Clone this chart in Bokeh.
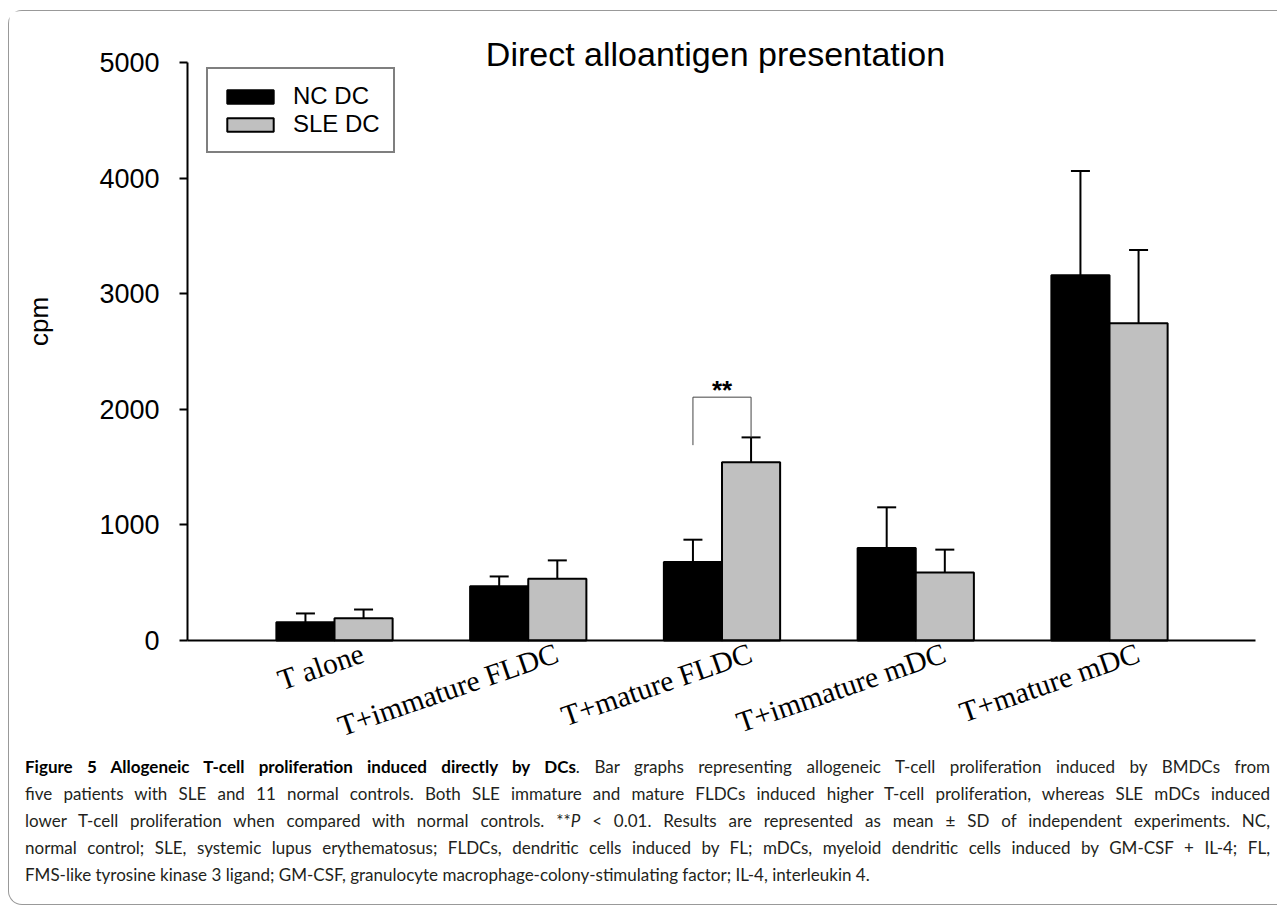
import math
from bokeh.plotting import figure
from bokeh.models import (Range1d, ColumnDataSource, Whisker, TeeHead, Legend, LegendItem,
                          LabelSet, Label, FixedTicker, Div)
from bokeh.layouts import column
from bokeh.core.properties import value
from bokeh.embed import file_html
from bokeh.resources import INLINE

# ---------------- data ----------------
categories = ["T alone", "T+immature FLDC", "T+mature FLDC", "T+immature mDC", "T+mature mDC"]
nc_dc = [158, 470, 678, 801, 3160]
nc_sd = [76, 84, 194, 351, 902]
sle_dc = [193, 534, 1542, 588, 2745]
sle_sd = [75, 159, 215, 198, 632]
y_ticks = [0, 1000, 2000, 3000, 4000, 5000]
series_names = ["NC DC", "SLE DC"]
sig_index = 2
bracket_top = 2105
bracket_left_bottom = 1690
sig_text = "**"
title_text = "Direct alloantigen presentation"
y_label = "cpm"

# ---------------- layout geometry (image pixels) ----------------
OX, OY = 9, 11               # figure origin on the page
W, H = 1268, 742             # figure size
AX_PX, AX_END_PX = 187, 1255 # y-axis position, end of category axis
C0, STEP = 334, 193.75       # first group centre, group spacing
BASE_PX, TOP_PX = 640, 62    # y=0 and y=5000 positions
K = (BASE_PX - TOP_PX) / 5000.0

def px2x(px):
    return (px - C0) / STEP
def px2y(py):
    return (BASE_PX - py) / K

p = figure(width=W, height=H,
           x_range=Range1d(px2x(OX), px2x(OX + W)), y_range=Range1d(px2y(OY + H), px2y(OY)),
           output_backend="svg", toolbar_location=None, title=None,
           min_border_left=0, min_border_right=0, min_border_top=0, min_border_bottom=0)
p.outline_line_color = None
p.xgrid.visible = False
p.ygrid.visible = False
p.background_fill_color = "white"
p.border_fill_color = "white"

idx = list(range(len(categories)))
bw = 0.3
src = ColumnDataSource(dict(
    x_nc=[i - bw / 2 for i in idx], x_sle=[i + bw / 2 for i in idx],
    nc=nc_dc, sle=sle_dc,
    nc_up=[v + e for v, e in zip(nc_dc, nc_sd)],
    sle_up=[v + e for v, e in zip(sle_dc, sle_sd)],
))

# error bars (upper only)
for xcol, lo, up in (("x_nc", "nc", "nc_up"), ("x_sle", "sle", "sle_up")):
    wk = Whisker(source=src, base=xcol, lower=lo, upper=up, dimension="height",
                 line_color="black", line_width=2,
                 upper_head=TeeHead(size=19, line_width=2, line_color="black"),
                 lower_head=None, level="underlay")
    p.add_layout(wk)

r_nc = p.vbar(x="x_nc", top="nc", width=bw, bottom=0, source=src,
              fill_color="black", line_color="black", line_width=2)
r_sle = p.vbar(x="x_sle", top="sle", width=bw, bottom=0, source=src,
               fill_color="#c0c0c0", line_color="black", line_width=2)

# x axis: baseline at y=0 without ticks
p.xaxis.fixed_location = 0
p.xaxis.bounds = (px2x(AX_PX), px2x(AX_END_PX))
p.xaxis.ticker = FixedTicker(ticks=[])
p.xaxis.axis_line_width = 2
p.xaxis.axis_line_color = "black"
p.xaxis.major_tick_line_color = None
p.xaxis.minor_tick_line_color = None

# y axis at a fixed location
p.yaxis.fixed_location = px2x(AX_PX)
p.yaxis.ticker = FixedTicker(ticks=y_ticks)
p.yaxis.bounds = (0, 5000)
p.yaxis.axis_line_width = 2
p.yaxis.axis_line_color = "black"
p.yaxis.major_tick_line_width = 2
p.yaxis.major_tick_line_color = "black"
p.yaxis.major_tick_out = 8
p.yaxis.major_tick_in = 0
p.yaxis.minor_tick_line_color = None
p.yaxis.major_label_standoff = 20
p.yaxis.major_label_text_font = "Liberation Sans"
p.yaxis.major_label_text_font_size = "27px"
p.yaxis.major_label_text_color = "black"

# y axis title
p.add_layout(Label(x=px2x(38), y=px2y(321), text=y_label, angle=math.pi / 2,
                   text_align="center", text_baseline="middle",
                   text_font="Liberation Sans", text_font_size="26px", text_color="black"))

# significance bracket
xl = sig_index - bw / 2
xr = sig_index + bw / 2
p.line(x=[xl, xl, xr, xr],
       y=[bracket_left_bottom, bracket_top, bracket_top, sle_dc[sig_index] + sle_sd[sig_index]],
       line_color="#444444", line_width=1)
p.add_layout(Label(x=sig_index, y=px2y(389), text=sig_text, text_align="center",
                   text_baseline="alphabetic", text_font="Liberation Sans",
                   text_font_size="26px", text_font_style="bold", text_color="black"))

# category labels (rotated)
lab_src = ColumnDataSource(dict(x=idx, y=[0] * len(idx), text=categories))
p.add_layout(LabelSet(x="x", y="y", text="text", source=lab_src, x_offset=32, y_offset=-21,
                      angle=math.radians(19), text_align="right", text_baseline="alphabetic",
                      text_font=value("Liberation Serif"), text_font_size="29.5px",
                      text_color="black"))

# title
p.add_layout(Label(x=px2x(715), y=px2y(53), text=title_text, text_align="center",
                   text_baseline="alphabetic", text_font="Liberation Sans",
                   text_font_size="34px", text_color="black"))

# legend
legend = Legend(items=[LegendItem(label=series_names[0], renderers=[r_nc]),
                       LegendItem(label=series_names[1], renderers=[r_sle])],
                location=(206 - OX, OY + H - 153), orientation="vertical",
                glyph_width=58, glyph_height=17, label_height=20, spacing=0,
                padding=13, label_standoff=14, margin=0,
                border_line_color="black", border_line_width=2,
                background_fill_color="white", background_fill_alpha=1,
                label_text_font="Liberation Sans", label_text_font_size="24px",
                label_text_color="black")
p.add_layout(legend)

# caption
cap_lines = [
    "<b style='color:#000'>Figure 5 Allogeneic T-cell proliferation induced directly by DCs</b>. Bar graphs representing allogeneic T-cell proliferation induced by BMDCs from",
    "five patients with SLE and 11 normal controls. Both SLE immature and mature FLDCs induced higher T-cell proliferation, whereas SLE mDCs induced",
    "lower T-cell proliferation when compared with normal controls. **<i>P</i> &lt; 0.01. Results are represented as mean &plusmn; SD of independent experiments. NC,",
    "normal control; SLE, systemic lupus erythematosus; FLDCs, dendritic cells induced by FL; mDCs, myeloid dendritic cells induced by GM-CSF + IL-4; FL,",
    "FMS-like tyrosine kinase 3 ligand; GM-CSF, granulocyte macrophage-colony-stimulating factor; IL-4, interleukin 4.",
]
parts = []
for i, t in enumerate(cap_lines):
    last = i == len(cap_lines) - 1
    al = "left" if last else "justify"
    parts.append(f"<div style=\"white-space:nowrap;text-align:{al};text-align-last:{al};\">{t}</div>")
cap_html = ("<div style=\"font-family:'Lato',sans-serif;font-size:17px;line-height:27px;"
            "color:#231f20;width:1245px;\">" + "".join(parts) + "</div>")
cap = Div(text=cap_html, width=1245, margin=(0, 0, 16, 16))

layout = column(p, cap, margin=(10, 0, 0, 8),
                styles={"border-top": "1px solid #999", "border-left": "1px solid #999",
                        "border-bottom": "1px solid #999",
                        "border-radius": "14px 0 0 14px"})

open("out.html", "w").write(file_html(layout, INLINE))
